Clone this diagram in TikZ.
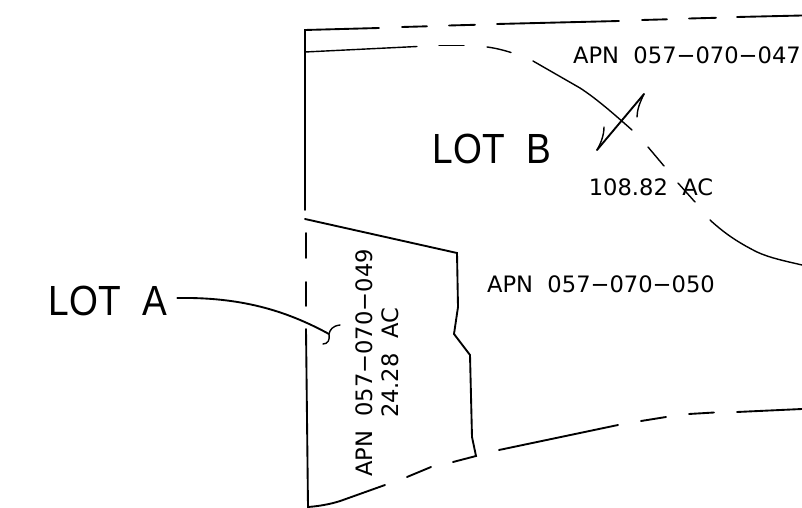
\documentclass[tikz,border=0pt]{standalone}
\usepackage{fontspec}
\setmainfont{Liberation Sans}
\newfontfamily\apnfont{DejaVu Sans}
\newfontfamily\lotfont[FakeStretch=0.88]{Liberation Sans}
\usetikzlibrary{positioning}
\tikzset{
  boundary/.style={line width=1.6pt,line cap=round},
  parcel/.style={line width=1.2pt,line cap=round},
  lotlabel/.style={inner sep=0pt,font=\lotfont\fontsize{36}{36}\selectfont},
  apnlabel/.style={inner sep=0pt,font=\apnfont\fontsize{19.3}{19.3}\selectfont}
}
\begin{document}
\begin{tikzpicture}[x=0.03cm,y=-0.03cm]
\useasboundingbox (0,0) rectangle (802,508);
% Lot labels
\node[lotlabel] (lota) at (108,301) {LOT\hspace{0.5em}A};
\node[lotlabel] (lotb) at (492,149) {LOT\hspace{0.5em}B};

% Parcel labels
\node[apnlabel] (apn047) at (687,55) {APN\ \ 057−070−047};
\node[apnlabel] (acb) at (651,187) {108.82\ \ AC};
\node[apnlabel] (apn050) at (601,284) {APN\ \ 057−070−050};
\node[apnlabel,rotate=90] (apn049) at (364,363) {APN\ \ 057−070−049};
\node[apnlabel,rotate=90] (aca) at (390.5,363) {24.28\ \ AC};

% Top boundary
\draw[boundary] (305,210) -- (305,30) -- (379,28);
\draw[boundary] (402,27) -- (427,26.3);
\draw[boundary] (449,25.5) -- (475,24.8);
\draw[boundary] (497,24) -- (619,21);
\draw[boundary] (642,20) -- (667,19.3);
\draw[boundary] (689,18.5) -- (716,17.8);
\draw[boundary] (737,17) -- (802,15.5);

% Left boundary, dashed part
\draw[boundary] (306,233) -- (306,258);
\draw[boundary] (306,282) -- (306,306);

% Lot A outline
\draw[boundary] (306,329) -- (308,507) .. controls (322,506) and (335,503) .. (343,500) -- (385,485);
\draw[boundary] (407,477) -- (431,467);
\draw[boundary] (453,462) -- (476,456) -- (472,437) -- (470,355) -- (454,334) -- (458,307) -- (457,253) -- (305,219);

% Bottom boundary
\draw[boundary] (499,450) -- (618,425);
\draw[boundary] (641,421) -- (666,417);
\draw[boundary] (689,414) -- (714,412.5);
\draw[boundary] (737,412) -- (802,409);

% Parcel line through lot B
\draw[parcel] (305,52) -- (417,46.5);
\draw[parcel] (439,45.5) -- (464,45.5);
\draw[parcel] (487,47) .. controls (495,48) and (503,50) .. (511,52.5);
\draw[parcel] (533,61) -- (580,88) .. controls (597,99) and (615,115) .. (632,130);
\draw[parcel] (648,147) -- (664,166);
\draw[parcel] (678,183) -- (695,202);
\draw[parcel] (710,220) .. controls (722,231) and (735,241) .. (757,252) .. controls (770,258) and (785,261) .. (802,265);

% Crossing arrow
\draw[boundary] (644,94) -- (597,150);
\draw[parcel] (644,94) .. controls (640,102) and (637,110) .. (637,117);
\draw[parcel] (597,150) .. controls (601,143) and (604,135) .. (604,127);

% Leader from LOT A
\coordinate (curltop) at (340,325);
\coordinate (curlend) at (323,344);
\coordinate (curlmid) at (329,334);
\draw[boundary] (lota.east) ++(10,-3) .. controls (240,297) and (285,310) .. (curlmid);
\draw[parcel] (curltop) .. controls (332,326) and (330,330) .. (curlmid) .. controls (330,340) and (328,344) .. (curlend);
\end{tikzpicture}
\end{document}
